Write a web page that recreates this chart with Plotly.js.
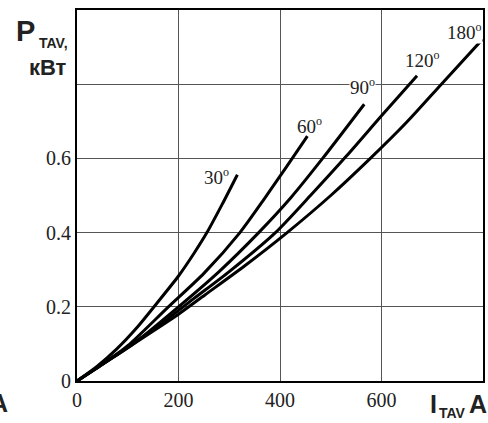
<!DOCTYPE html>
<html>
<head>
<meta charset="utf-8">
<script src="https://cdn.plot.ly/plotly-3.0.1.min.js"></script>
<style>html,body{margin:0;padding:0;background:#fff;}#chart{width:488px;height:423px;}</style>
</head>
<body>
<div id="chart"></div>
<script>
// Current I_TAV (A) and power P_TAV (kW) for each conduction angle
const i30  = [0, 40, 78, 120, 157, 200, 230, 256, 286, 316];
const p30  = [0, 0.04, 0.086, 0.147, 0.209, 0.283, 0.343, 0.4, 0.476, 0.556];
const i60  = [0, 50, 100, 178, 250, 321, 366, 410, 454];
const p60  = [0, 0.045, 0.095, 0.197, 0.29, 0.4, 0.485, 0.572, 0.66];
const i90  = [0, 50, 108, 200, 280, 358, 420, 484, 566];
const p90  = [0, 0.045, 0.097, 0.2, 0.295, 0.4, 0.492, 0.6, 0.746];
const i120 = [0, 50, 100, 163, 230, 300, 391, 460, 530, 600, 670];
const p120 = [0, 0.045, 0.092, 0.151, 0.222, 0.295, 0.4, 0.5, 0.605, 0.715, 0.823];
const i180 = [0, 50, 100, 200, 252, 330, 414, 500, 578, 650, 718, 799];
const p180 = [0, 0.045, 0.09, 0.18, 0.232, 0.31, 0.4, 0.5, 0.6, 0.698, 0.8, 0.921];

const angleLabels = ['30', '60', '90', '120', '180'];
const xTicks = [0, 200, 400, 600];
const xTickText = ['0', '200', '400', '600'];
const yTicks = [0, 0.2, 0.4, 0.6, 0.8];
const yTickText = ['0', '0.2', '0.4', '0.6', ''];

const series = [[i30, p30], [i60, p60], [i90, p90], [i120, p120], [i180, p180]];
const traces = series.map((s, k) => ({
  x: s[0], y: s[1], type: 'scatter', mode: 'lines', name: angleLabels[k],
  line: {color: '#000', width: 3, shape: 'spline', smoothing: 0.7},
  hoverinfo: 'skip'
}));

const labelPos = [[274, 0.552], [459, 0.689], [562, 0.793], [680, 0.866], [764, 0.941]];
const serif = 'Liberation Serif, Times New Roman, serif';
const sans = 'Liberation Sans, Arial, sans-serif';
const annotations = angleLabels.map((t, k) => ({
  xref: 'x', yref: 'y', x: labelPos[k][0], y: labelPos[k][1],
  text: t + '<sup><span style="font-size:12px">o</span></sup>', showarrow: false,
  xanchor: 'center', yanchor: 'middle',
  font: {family: serif, size: 19, color: '#222'},
  bgcolor: k >= 2 ? '#fff' : 'rgba(0,0,0,0)', borderpad: 0
}));
function pa(text, px, py, size, bold) {
  return {xref: 'paper', yref: 'paper', x: (px - 77) / 406, y: (381 - py) / 371,
    text: bold ? '<b>' + text + '</b>' : text, showarrow: false,
    xanchor: 'center', yanchor: 'middle', font: {family: sans, size: size, color: '#222'}};
}
annotations.push(pa('P', 26, 31, 29, true));
annotations.push(pa('TAV,', 53, 43, 14, true));
annotations.push(pa('кВт', 48, 67, 22, true));
annotations.push(pa('I', 433, 404, 25, true));
annotations.push(pa('TAV', 452, 413, 14, true));
annotations.push(pa('A', 478, 404, 25, true));
annotations.push(pa('A', -1, 403, 25, true));

const layout = {
  width: 488, height: 423,
  margin: {l: 77, r: 5, t: 10, b: 42},
  paper_bgcolor: '#fff', plot_bgcolor: '#fff',
  showlegend: false,
  xaxis: {range: [0, 800], tickvals: xTicks, ticktext: xTickText, ticks: '',
    showgrid: true, gridcolor: '#555', gridwidth: 1, zeroline: false,
    showline: true, mirror: true, linecolor: '#000', linewidth: 2,
    tickfont: {family: serif, size: 20, color: '#222'}, fixedrange: true},
  yaxis: {range: [0, 1], tickvals: yTicks, ticktext: yTickText, ticks: '',
    showgrid: true, gridcolor: '#555', gridwidth: 1, zeroline: false,
    showline: true, mirror: true, linecolor: '#000', linewidth: 2,
    tickfont: {family: serif, size: 20, color: '#222'}, fixedrange: true},
  annotations: annotations
};
Plotly.newPlot('chart', traces, layout, {staticPlot: true, displayModeBar: false});
</script>
</body>
</html>
